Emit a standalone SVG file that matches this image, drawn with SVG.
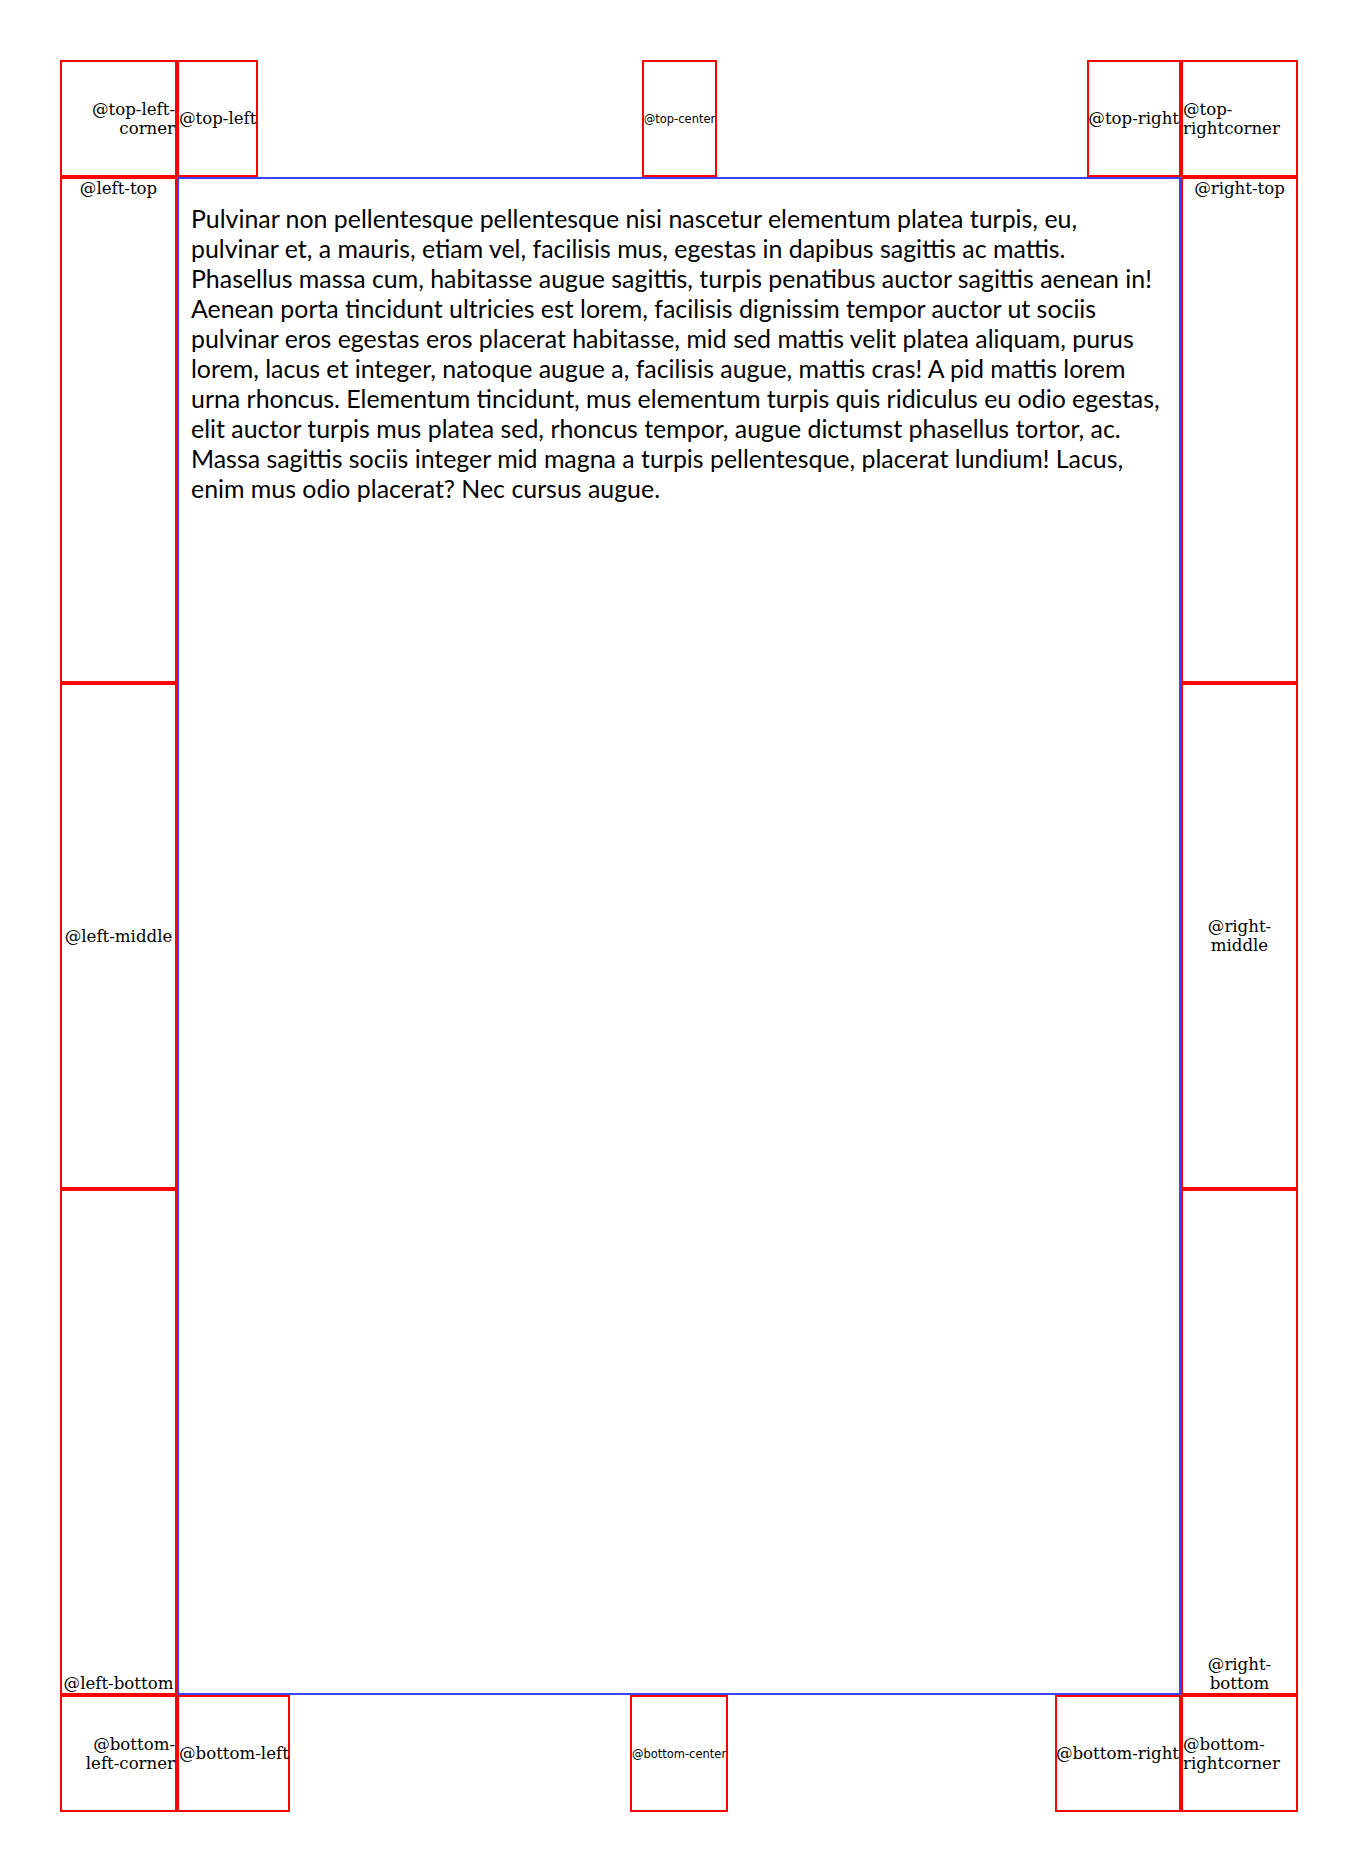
<svg xmlns="http://www.w3.org/2000/svg" width="1358" height="1872" viewBox="0 0 1358 1872">
<style>
.box{fill:none;stroke:#ff0000;stroke-width:2}
.lbl{font-family:"DejaVu Serif",serif;font-size:16.6px;fill:#000}
.sm{font-family:"DejaVu Sans",sans-serif;font-size:11.5px;fill:#000}
.body{font-family:Lato,"Open Sans",sans-serif;font-size:24.9px;fill:#000}
.content{fill:none;stroke:#0000ff;stroke-width:1.5}
</style>
<rect width="1358" height="1872" fill="#fff"/>
<g id="page-content">
<rect class="content" x="178" y="178" width="1002" height="1516"/>
<text class="body" x="191">
<tspan x="191" y="228">Pulvinar non pellentesque pellentesque nisi nascetur elementum platea turpis, eu,</tspan>
<tspan x="191" y="258">pulvinar et, a mauris, etiam vel, facilisis mus, egestas in dapibus sagittis ac mattis.</tspan>
<tspan x="191" y="288">Phasellus massa cum, habitasse augue sagittis, turpis penatibus auctor sagittis aenean in!</tspan>
<tspan x="191" y="318">Aenean porta tincidunt ultricies est lorem, facilisis dignissim tempor auctor ut sociis</tspan>
<tspan x="191" y="348">pulvinar eros egestas eros placerat habitasse, mid sed mattis velit platea aliquam, purus</tspan>
<tspan x="191" y="378">lorem, lacus et integer, natoque augue a, facilisis augue, mattis cras! A pid mattis lorem</tspan>
<tspan x="191" y="408">urna rhoncus. Elementum tincidunt, mus elementum turpis quis ridiculus eu odio egestas,</tspan>
<tspan x="191" y="438">elit auctor turpis mus platea sed, rhoncus tempor, augue dictumst phasellus tortor, ac.</tspan>
<tspan x="191" y="468">Massa sagittis sociis integer mid magna a turpis pellentesque, placerat lundium! Lacus,</tspan>
<tspan x="191" y="498">enim mus odio placerat? Nec cursus augue.</tspan>
</text>
</g>
<g id="top-left-corner"><rect class="box" x="61" y="61" width="115" height="115"/><text class="lbl" text-anchor="end"><tspan x="175" y="114.6">@top-left-</tspan><tspan x="175" y="133.9">corner</tspan></text></g>
<g id="top-left"><rect class="box" x="178" y="61" width="79" height="115"/><text class="lbl" x="179" y="124.2">@top-left</text></g>
<g id="top-center"><rect class="box" x="643" y="61" width="73" height="115"/><text class="sm" x="679.5" y="122.5" text-anchor="middle">@top-center</text></g>
<g id="top-right"><rect class="box" x="1088" y="61" width="92" height="115"/><text class="lbl" x="1179" y="124.2" text-anchor="end">@top-right</text></g>
<g id="top-right-corner"><rect class="box" x="1182" y="61" width="115" height="115"/><text class="lbl"><tspan x="1183" y="114.6">@top-</tspan><tspan x="1183" y="133.9">rightcorner</tspan></text></g>
<g id="left-top"><rect class="box" x="61" y="178" width="115" height="504"/><text class="lbl" x="118.5" y="194.4" text-anchor="middle">@left-top</text></g>
<g id="left-middle"><rect class="box" x="61" y="684" width="115" height="504"/><text class="lbl" x="118.5" y="941.7" text-anchor="middle">@left-middle</text></g>
<g id="left-bottom"><rect class="box" x="61" y="1190" width="115" height="504"/><text class="lbl" x="118.5" y="1689.1" text-anchor="middle">@left-bottom</text></g>
<g id="right-top"><rect class="box" x="1182" y="178" width="115" height="504"/><text class="lbl" x="1239.5" y="194.4" text-anchor="middle">@right-top</text></g>
<g id="right-middle"><rect class="box" x="1182" y="684" width="115" height="504"/><text class="lbl" text-anchor="middle"><tspan x="1239.5" y="932.1">@right-</tspan><tspan x="1239.5" y="951.4">middle</tspan></text></g>
<g id="right-bottom"><rect class="box" x="1182" y="1190" width="115" height="504"/><text class="lbl" text-anchor="middle"><tspan x="1239.5" y="1669.8">@right-</tspan><tspan x="1239.5" y="1689.1">bottom</tspan></text></g>
<g id="bottom-left-corner"><rect class="box" x="61" y="1696" width="115" height="115"/><text class="lbl" text-anchor="end"><tspan x="175" y="1749.6">@bottom-</tspan><tspan x="175" y="1768.9">left-corner</tspan></text></g>
<g id="bottom-left"><rect class="box" x="178" y="1696" width="111" height="115"/><text class="lbl" x="179" y="1759.2">@bottom-left</text></g>
<g id="bottom-center"><rect class="box" x="631" y="1696" width="96" height="115"/><text class="sm" x="679" y="1757.5" text-anchor="middle">@bottom-center</text></g>
<g id="bottom-right"><rect class="box" x="1056" y="1696" width="124" height="115"/><text class="lbl" x="1179" y="1759.2" text-anchor="end">@bottom-right</text></g>
<g id="bottom-right-corner"><rect class="box" x="1182" y="1696" width="115" height="115"/><text class="lbl"><tspan x="1183" y="1749.6">@bottom-</tspan><tspan x="1183" y="1768.9">rightcorner</tspan></text></g>
<g id="connectors"/>
</svg>
